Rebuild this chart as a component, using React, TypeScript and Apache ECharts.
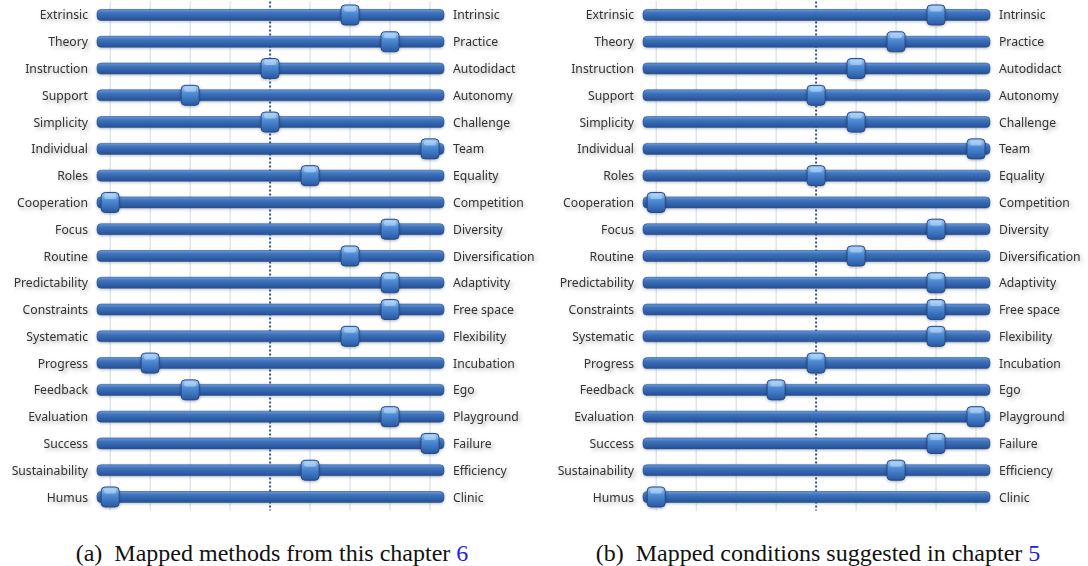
import React, { useEffect, useRef } from "react";
import * as echarts from "echarts";

const leftLabels = ["Extrinsic","Theory","Instruction","Support","Simplicity","Individual","Roles","Cooperation","Focus","Routine","Predictability","Constraints","Systematic","Progress","Feedback","Evaluation","Success","Sustainability","Humus"];
const rightLabels = ["Intrinsic","Practice","Autodidact","Autonomy","Challenge","Team","Equality","Competition","Diversity","Diversification","Adaptivity","Free space","Flexibility","Incubation","Ego","Playground","Failure","Efficiency","Clinic"];
const methodsValues = [6,7,4,2,4,8,5,0,7,6,7,7,6,1,2,7,8,5,0];
const conditionsValues = [7,6,5,4,5,8,4,0,7,5,7,7,7,4,3,8,7,6,0];
const gridTicks = [0,1,2,3,4,5,6,7,8];
const CENTER_TICK = 4;
const TRACK_MIN = -0.33;
const TRACK_MAX = 8.35;

const captionA = "Mapped methods from this chapter";
const captionB = "Mapped conditions suggested in chapter";

export default function App() {
  const ref = useRef<HTMLDivElement>(null);
  useEffect(() => {
    const chart = echarts.init(ref.current!, null, { renderer: "svg" });
    const labelStyle = {
      color: "#333",
      fontSize: 12.2,
      fontFamily: "Noto Sans",
      textShadowColor: "rgba(0,0,0,0.35)",
      textShadowBlur: 4,
      textShadowOffsetX: 2,
      textShadowOffsetY: 2,
    };
    const trackGrad = () =>
      new echarts.graphic.LinearGradient(0, 0, 0, 1, [
        { offset: 0, color: "#6a9ad8" },
        { offset: 0.3, color: "#3e74be" },
        { offset: 1, color: "#264f93" },
      ]);
    const knobGrad = () =>
      new echarts.graphic.LinearGradient(0, 0, 0, 1, [
        { offset: 0, color: "#a4d0f8" },
        { offset: 0.4, color: "#4f8cd6" },
        { offset: 1, color: "#2858a2" },
      ]);
    const panels = [
      { left: 97, values: methodsValues },
      { left: 643, values: conditionsValues },
    ];
    const grid: any[] = [];
    const xAxis: any[] = [];
    const yAxis: any[] = [];
    const series: any[] = [];
    panels.forEach((p, gi) => {
      grid.push({ left: p.left, width: 347, top: 1.6, height: 508.8, containLabel: false });
      xAxis.push({ type: "value", gridIndex: gi, min: TRACK_MIN, max: TRACK_MAX, show: false });
      yAxis.push({
        type: "category", gridIndex: gi, inverse: true, position: "left", data: leftLabels,
        axisLine: { show: false }, axisTick: { show: false }, splitLine: { show: false },
        axisLabel: { ...labelStyle, margin: 9 },
      });
      yAxis.push({
        type: "category", gridIndex: gi, inverse: true, position: "right", data: rightLabels,
        axisLine: { show: false }, axisTick: { show: false }, splitLine: { show: false },
        axisLabel: { ...labelStyle, margin: 9 },
      });
      const yi = gi * 2;
      series.push({
        type: "custom", xAxisIndex: gi, yAxisIndex: yi, z: 1, silent: true,
        data: gridTicks.map((t) => [t, 0]),
        encode: { x: 0, y: 1 },
        renderItem: (params: any, api: any) => {
          const t = api.value(0);
          const pt = api.coord([t, 0]);
          const cs = params.coordSys;
          const center = t === CENTER_TICK;
          return {
            type: "line",
            shape: { x1: pt[0], y1: cs.y, x2: pt[0], y2: cs.y + cs.height },
            style: center
              ? { stroke: "#2f5597", lineWidth: 2, lineDash: [2, 2] }
              : { stroke: "#9db3cf", lineWidth: 1, lineDash: [1, 1] },
          };
        },
      });
      series.push({
        type: "custom", xAxisIndex: gi, yAxisIndex: yi, z: 2, silent: true,
        data: leftLabels.map((_, i) => [TRACK_MIN, i, TRACK_MAX]),
        encode: { x: [0, 2], y: 1 },
        renderItem: (params: any, api: any) => {
          const a = api.coord([api.value(0), api.value(1)]);
          const b = api.coord([api.value(2), api.value(1)]);
          return {
            type: "rect",
            shape: { x: a[0], y: a[1] - 5.5, width: b[0] - a[0], height: 11, r: 4 },
            style: {
              fill: trackGrad(),
              stroke: "#2a5391",
              lineWidth: 0.6,
              shadowColor: "rgba(0,0,0,0.25)",
              shadowBlur: 3,
              shadowOffsetY: 1,
            },
          };
        },
      });
      series.push({
        type: "custom", xAxisIndex: gi, yAxisIndex: yi, z: 3, silent: true,
        data: p.values.map((v, i) => [v, i]),
        encode: { x: 0, y: 1 },
        renderItem: (params: any, api: any) => {
          const c = api.coord([api.value(0), api.value(1)]);
          return {
            type: "group",
            children: [
              {
                type: "rect",
                shape: { x: c[0] - 9, y: c[1] - 10, width: 18, height: 20, r: 4 },
                style: {
                  fill: knobGrad(),
                  stroke: "#274a86",
                  lineWidth: 1,
                  shadowColor: "rgba(0,0,0,0.3)",
                  shadowBlur: 3,
                  shadowOffsetY: 1,
                },
              },
              {
                type: "rect",
                shape: { x: c[0] - 6, y: c[1] - 8.5, width: 12, height: 5, r: 2 },
                style: { fill: "rgba(210,235,255,0.45)" },
              },
            ],
          };
        },
      });
    });
    const captionStyle = {
      fontFamily: "Liberation Serif", fontSize: 24, fontWeight: "normal", color: "#111",
      rich: { n: { fontFamily: "Liberation Serif", fontSize: 24, color: "#2020ee" } },
    };
    chart.setOption({
      animation: false,
      backgroundColor: "#ffffff",
      grid,
      xAxis,
      yAxis,
      series,
      title: [
        { text: "(a)  " + captionA + " {n|6}", left: 267, top: 536, textAlign: "center", textStyle: captionStyle },
        { text: "(b)  " + captionB + " {n|5}", left: 813, top: 536, textAlign: "center", textStyle: captionStyle },
      ],
    });
    return () => chart.dispose();
  }, []);
  return <div ref={ref} style={{ width: 1088, height: 566, position: "absolute", left: 0, top: 0 }} />;
}
